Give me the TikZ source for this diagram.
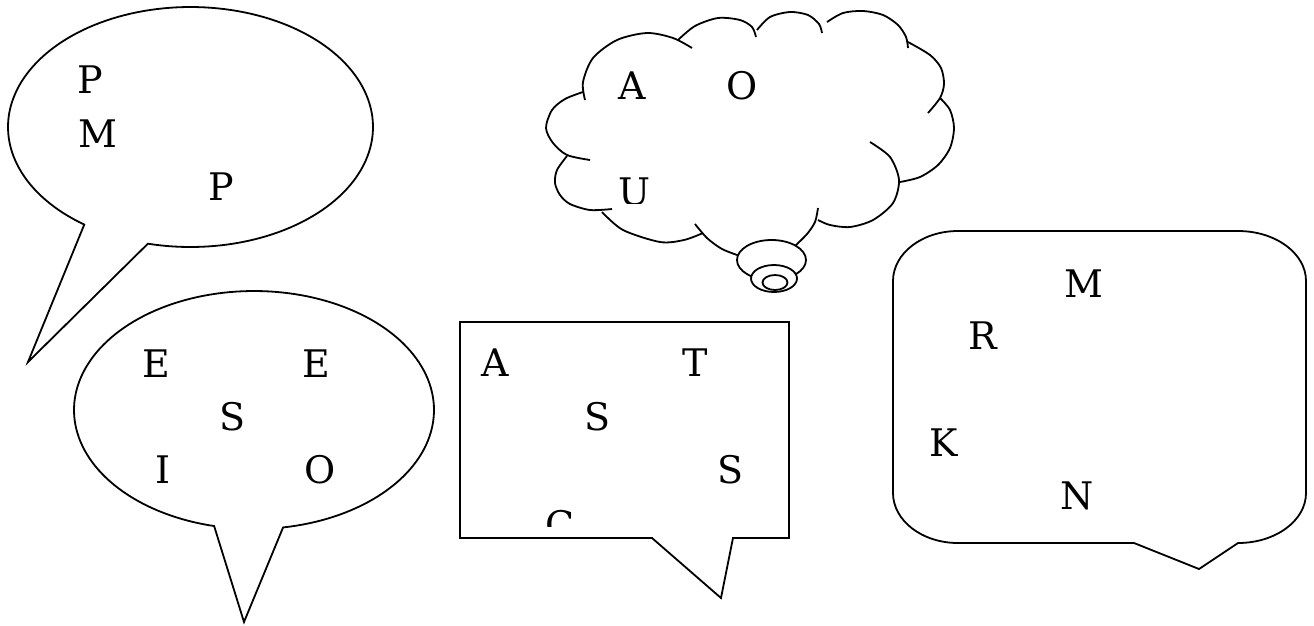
\documentclass[tikz,border=0pt]{standalone}
\usepackage{fontspec}
\newfontfamily\ltrfont{DejaVu Serif}
\begin{document}
\begin{tikzpicture}[x=1pt,y=-1pt,
  bubble/.style={draw=black, line width=1.8pt, fill=white, line join=miter},
  puff/.style={draw=black, line width=1.8pt, line cap=butt},
  letter/.style={font={\ltrfont\fontsize{38}{40}\selectfont}, inner sep=0pt, anchor=base}]
\fill[white] (0,0) rectangle (1314,625);
\useasboundingbox (0,0) rectangle (1314,625);

% --- ellipse callout, top left
\draw[bubble] plot[domain=125.6:463.5, samples=160] ({190.5+182.5*cos(\x)},{127+120*sin(\x)}) -- (28,362) -- cycle;
\node[letter] (p1) at (90,93) {P};
\node[letter] (m1) at (97.5,147) {M};
\node[letter] (p2) at (221.5,200) {P};

% --- ellipse callout, bottom left
\draw[bubble] plot[domain=102.8:440.7, samples=160] ({254+180*cos(\x)},{410+119*sin(\x)}) -- (244,622) -- cycle;
\node[letter] (e1) at (156,377) {E};
\node[letter] (e2) at (316.5,377) {E};
\node[letter] (s1) at (233,430) {S};
\node[letter] (i1) at (163.5,483) {I};
\node[letter] (o1) at (320.3,483) {O};

% --- cloud callout
\draw[puff] plot[smooth] coordinates {(585,100) (583,82) (593,58) (617,40) (647,33) (673,38) (692,48)};
\draw[puff] plot[smooth] coordinates {(678,40) (695,26) (718,18) (740,20) (752,27) (756,37)};
\draw[puff] plot[smooth] coordinates {(757,30) (770,17) (790,12) (808,15) (819,24) (822,33)};
\draw[puff] plot[smooth] coordinates {(827,22) (843,13) (863,11) (883,15) (898,25) (906,37) (908,48)};
\draw[puff] plot[smooth] coordinates {(908,42) (930,55) (941,68) (944,84) (940,98) (928,113)};
\draw[puff] plot[smooth] coordinates {(940,98) (950,110) (954,128) (950,148) (938,165) (920,177) (900,182)};
\draw[puff] plot[smooth] coordinates {(870,142) (890,157) (899,180) (893,203) (873,220) (850,227) (830,225) (818,220)};
\draw[puff] plot[smooth] coordinates {(818,208) (815,222) (807,234) (795,246)};
\draw[puff] plot[smooth] coordinates {(695,224) (707,238) (722,249) (740,256)};
\draw[puff] plot[smooth] coordinates {(602,212) (623,230) (660,242) (684,240) (703,233)};
\draw[puff] plot[smooth] coordinates {(567,156) (557,170) (555,183) (560,195) (570,204) (590,210) (612,209)};
\draw[puff] plot[smooth] coordinates {(590,160) (567,155) (553,143) (546,128) (552,110) (565,99) (583,92)};
\draw[bubble] (771.5,260) ellipse[x radius=34.5pt, y radius=20pt];
\draw[bubble] (774,278.5) ellipse[x radius=23pt, y radius=13.5pt];
\draw[bubble] (775,282.5) ellipse[x radius=12.5pt, y radius=7.5pt];
\node[letter] (a1) at (632.5,99) {A};
\node[letter] (o2) at (742,99) {O};
\begin{scope}
  \clip (540,150) rectangle (700,203);
  \node[letter] (u1) at (634.5,205) {U};
\end{scope}

% --- rectangle callout
\draw[bubble] (460,322) -- (789,322) -- (789,538) -- (733,538) -- (721,598) -- (652,538) -- (460,538) -- cycle;
\node[letter] (a2) at (495,376) {A};
\node[letter] (t1) at (695,376) {T};
\node[letter] (s2) at (598,430) {S};
\node[letter] (s3) at (730.5,483) {S};
\begin{scope}
  \clip (470,490) rectangle (700,526);
  \node[letter] (c1) at (560,538) {C};
\end{scope}

% --- rounded rectangle callout
\draw[bubble] (1134,543) -- (958,543)
  arc[start angle=270, end angle=180, x radius=65pt, y radius=50pt]
  -- (893,281)
  arc[start angle=180, end angle=90, x radius=65pt, y radius=50pt]
  -- (1238,231)
  arc[start angle=90, end angle=0, x radius=68pt, y radius=50pt]
  -- (1306,493)
  arc[start angle=0, end angle=-90, x radius=68pt, y radius=50pt]
  -- (1199,569) -- cycle;
\node[letter] (m2) at (1084,297) {M};
\node[letter] (r1) at (983,349) {R};
\node[letter] (k1) at (944,456) {K};
\node[letter] (n1) at (1077,509) {N};
\end{tikzpicture}
\end{document}
